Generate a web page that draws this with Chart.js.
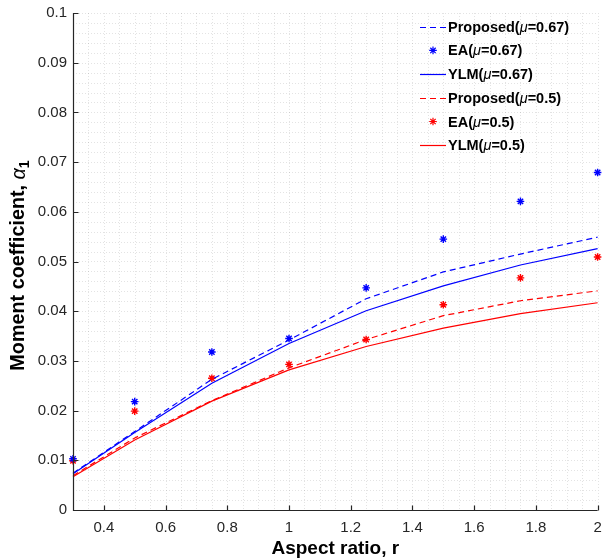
<!DOCTYPE html>
<html>
<head>
<meta charset="utf-8">
<title>Moment coefficient vs aspect ratio</title>
<script src="https://cdn.jsdelivr.net/npm/chart.js@4/dist/chart.umd.min.js"></script>
<style>
    html, body { margin: 0; padding: 0; background: #fff; }
    canvas { display: block; }
</style>
</head>
<body>
<canvas id="chart" width="603" height="560"></canvas>
<script>
'use strict';

// Data
const aspectRatios = [0.3, 0.5, 0.75, 1, 1.25, 1.5, 1.75, 2];
const proposed067 = [0.0074, 0.0158, 0.0263, 0.0342, 0.0425, 0.0479, 0.0515, 0.0549];
const ea067 = [0.0103, 0.0218, 0.0318, 0.0345, 0.0447, 0.0545, 0.0621, 0.0679];
const ylm067 = [0.0073, 0.0156, 0.0255, 0.0335, 0.0401, 0.0451, 0.0493, 0.0526];
const proposed05 = [0.0069, 0.0145, 0.0220, 0.0286, 0.0343, 0.0391, 0.0421, 0.0441];
const ea05 = [0.0099, 0.0199, 0.0265, 0.0293, 0.0343, 0.0413, 0.0467, 0.0509];
const ylm05 = [0.0067, 0.0141, 0.0219, 0.0282, 0.0329, 0.0366, 0.0395, 0.0417];

const xTicks = [0.4, 0.6, 0.8, 1, 1.2, 1.4, 1.6, 1.8, 2];
const yTicks = [0, 0.01, 0.02, 0.03, 0.04, 0.05, 0.06, 0.07, 0.08, 0.09, 0.1];

const FONT = "'Liberation Sans', Arial, Helvetica, sans-serif";
const AXIS_COLOR = '#262626';
const BLUE = '#0000ff';
const RED = '#ff0000';

function toPoints(values) {
    return aspectRatios.map((x, i) => ({ x, y: values[i] }));
}

function lineSet(label, values, color, dashed) {
    return {
        label,
        data: toPoints(values),
        borderColor: color,
        backgroundColor: color,
        borderWidth: 1.2,
        borderDash: dashed ? [6, 4] : [],
        pointRadius: 0,
        showLine: true,
        tension: 0,
        clip: false
    };
}

function starSet(label, values, color) {
    return {
        label,
        data: toPoints(values),
        borderColor: color,
        backgroundColor: color,
        pointStyle: 'star',
        pointRadius: 3.8,
        pointBorderWidth: 1.4,
        showLine: false,
        clip: false
    };
}

// Dotted major + minor grid and inward tick marks, MATLAB style
const gridPlugin = {
    id: 'matlabGrid',
    beforeDatasetsDraw(chart) {
        const { ctx, chartArea: a, scales: { x, y } } = chart;
        ctx.save();
        ctx.strokeStyle = 'rgba(0,0,0,0.11)';
        ctx.lineWidth = 1;
        ctx.setLineDash([1, 2]);
        for (let v = 0.3; v <= 2.0001; v += 0.05) {
            const px = Math.round(x.getPixelForValue(v)) + 0.5;
            ctx.beginPath();
            ctx.moveTo(px, a.top);
            ctx.lineTo(px, a.bottom);
            ctx.stroke();
        }
        for (let v = 0; v <= 0.1001; v += 0.002) {
            const py = Math.round(y.getPixelForValue(v)) + 0.5;
            ctx.beginPath();
            ctx.moveTo(a.left, py);
            ctx.lineTo(a.right, py);
            ctx.stroke();
        }
        ctx.restore();
    },
    afterDatasetsDraw(chart) {
        const { ctx, chartArea: a, scales: { x, y } } = chart;
        const left = Math.round(a.left) + 0.5;
        const bottom = Math.round(a.bottom) + 0.5;
        ctx.save();
        ctx.strokeStyle = AXIS_COLOR;
        ctx.lineWidth = 1.2;
        ctx.beginPath();
        ctx.moveTo(left, a.top);
        ctx.lineTo(left, bottom);
        ctx.lineTo(a.right, bottom);
        xTicks.forEach(v => {
            const px = Math.round(x.getPixelForValue(v)) + 0.5;
            ctx.moveTo(px, bottom);
            ctx.lineTo(px, bottom - 5);
        });
        yTicks.forEach(v => {
            const py = Math.round(y.getPixelForValue(v)) + 0.5;
            ctx.moveTo(left, py);
            ctx.lineTo(left + 5, py);
        });
        ctx.stroke();
        ctx.restore();
    }
};

// Draws text where the Greek letter is set in italic (TeX style)
function drawMixed(ctx, text, x, y, size) {
    const parts = text.split(/([\u03b1-\u03c9])/);
    parts.forEach(part => {
        if (!part) return;
        const greek = /^[\u03b1-\u03c9]$/.test(part);
        ctx.font = (greek ? 'italic ' : 'bold ') + size + 'px ' + FONT;
        ctx.fillText(part, x, y);
        x += ctx.measureText(part).width;
    });
    return x;
}

// Legend inside the top right corner, no box
const legendPlugin = {
    id: 'insideLegend',
    afterDraw(chart) {
        const { ctx } = chart;
        const x0 = 420, x1 = 446, textX = 448;
        ctx.save();
        ctx.textBaseline = 'middle';
        chart.data.datasets.forEach((ds, i) => {
            const yy = 26.7 + i * 23.7;
            ctx.strokeStyle = ds.borderColor;
            ctx.fillStyle = ds.borderColor;
            if (ds.showLine) {
                ctx.lineWidth = ds.borderWidth;
                ctx.setLineDash(ds.borderDash);
                ctx.beginPath();
                ctx.moveTo(x0, Math.round(yy) + 0.5);
                ctx.lineTo(x1, Math.round(yy) + 0.5);
                ctx.stroke();
                ctx.setLineDash([]);
            } else {
                Chart.helpers.drawPoint(ctx, {
                    pointStyle: 'star',
                    radius: ds.pointRadius,
                    borderWidth: ds.pointBorderWidth
                }, (x0 + x1) / 2, yy);
            }
            ctx.fillStyle = '#000';
            drawMixed(ctx, ds.label, textX, yy + 1, 14.5);
        });
        ctx.restore();
    }
};

// Rotated y-axis title with italic alpha and subscript 1
const yTitlePlugin = {
    id: 'yTitle',
    afterDraw(chart) {
        const { ctx, chartArea: a } = chart;
        const main = 'Moment coefficient, ';
        const size = 19.8;
        ctx.save();
        ctx.translate(19, (a.top + a.bottom) / 2 + 4);
        ctx.rotate(-Math.PI / 2);
        ctx.fillStyle = '#000';
        ctx.textBaseline = 'middle';
        ctx.font = 'bold ' + size + 'px ' + FONT;
        const w1 = ctx.measureText(main).width;
        ctx.font = 'italic ' + size + 'px ' + FONT;
        const w2 = ctx.measureText('\u03b1').width;
        ctx.font = 'bold 14px ' + FONT;
        const w3 = ctx.measureText('1').width;
        let x = -(w1 + w2 + w3) / 2;
        x = drawMixed(ctx, main + '\u03b1', x, 0, size);
        ctx.font = 'bold 14px ' + FONT;
        ctx.fillText('1', x, 6);
        ctx.restore();
    }
};

const ctx = document.getElementById('chart');

new Chart(ctx, {
    type: 'scatter',
    data: {
        datasets: [
            lineSet('Proposed(\u03bc=0.67)', proposed067, BLUE, true),
            starSet('EA(\u03bc=0.67)', ea067, BLUE),
            lineSet('YLM(\u03bc=0.67)', ylm067, BLUE, false),
            lineSet('Proposed(\u03bc=0.5)', proposed05, RED, true),
            starSet('EA(\u03bc=0.5)', ea05, RED),
            lineSet('YLM(\u03bc=0.5)', ylm05, RED, false)
        ]
    },
    options: {
        responsive: false,
        animation: false,
        layout: { padding: { top: 13, right: 1, bottom: 0, left: 0 } },
        plugins: {
            legend: { display: false },
            tooltip: { enabled: false }
        },
        scales: {
            x: {
                type: 'linear',
                min: 0.3,
                max: 2,
                afterBuildTicks: scale => {
                    scale.ticks = xTicks.map(v => ({ value: v }));
                },
                afterFit: scale => {
                    scale.height = 50;
                    scale.paddingLeft = 0;
                    scale.paddingRight = 0;
                },
                grid: { display: false, drawTicks: false },
                border: { display: false },
                ticks: {
                    color: AXIS_COLOR,
                    font: { family: FONT, size: 15 },
                    padding: 9,
                    maxRotation: 0,
                    autoSkip: false,
                    callback: v => String(+v.toFixed(1))
                },
                title: {
                    display: true,
                    text: 'Aspect ratio, r',
                    color: '#000',
                    font: { family: FONT, size: 19, weight: 'bold' },
                    padding: { top: 0, bottom: 0 }
                }
            },
            y: {
                type: 'linear',
                min: 0,
                max: 0.1,
                afterBuildTicks: scale => {
                    scale.ticks = yTicks.map(v => ({ value: v }));
                },
                afterFit: scale => {
                    scale.width = 73;
                    scale.paddingTop = 0;
                    scale.paddingBottom = 0;
                },
                grid: { display: false, drawTicks: false },
                border: { display: false },
                ticks: {
                    color: AXIS_COLOR,
                    font: { family: FONT, size: 15 },
                    padding: 6,
                    autoSkip: false,
                    callback: v => String(+v.toFixed(2))
                }
            }
        }
    },
    plugins: [gridPlugin, legendPlugin, yTitlePlugin]
});
</script>
</body>
</html>
